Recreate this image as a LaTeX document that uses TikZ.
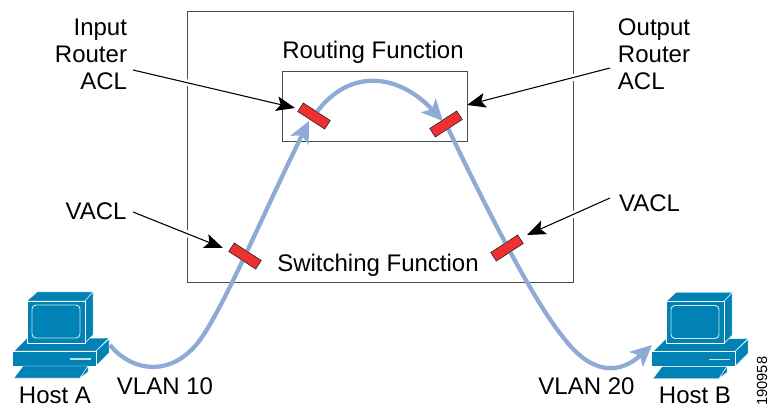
\documentclass[tikz,border=0pt]{standalone}
\usepackage{fontspec}
\setmainfont{Liberation Sans}
\usetikzlibrary{arrows.meta, positioning}

\definecolor{hostblue}{HTML}{0083B4}
\definecolor{pathblue}{HTML}{8FAAD6}
\definecolor{aclred}{HTML}{EE3030}

\tikzset{
    hostpart/.style = {fill = hostblue, draw = white, line width = 0.3pt, line join = round},
    hosticon/.pic = {
        % tower and keyboard
        \path[hostpart] (14,351) -- (26,339) -- (109,338) -- (96,351) -- cycle;
        \path[hostpart] (96,351) -- (109,339) -- (109,353) -- (96,366) -- cycle;
        \path[hostpart] (12,351) rectangle (96,366);
        \path[hostpart] (14,378) -- (23,366) -- (88,366) -- (80,378) -- cycle;
        \path[hostpart] (80,378) -- (88,366) -- (88,372) -- (80,378) -- cycle;
        \draw[white!75!hostblue, line width = 1pt] (70,359) -- (91,359);
        % monitor
        \path[hostpart] (27,301) -- (37,292) -- (93,292) -- (85,301) -- cycle;
        \path[hostpart] (85,301) -- (93,292) -- (93,335) -- (85,343) -- cycle;
        \path[hostpart] (27,301) rectangle (85,343);
        \draw[white!80!hostblue, line width = 0.7pt, rounded corners = 3pt] (32,305) rectangle (80,338);
    },
    boxline/.style = {draw = black!70, line width = 0.7pt},
    aclbar/.style = {
        draw = black!80,
        fill = aclred,
        line width = 0.4pt,
        minimum width = 24pt,
        minimum height = 7.5pt,
        inner sep = 0pt
    },
    flowpath/.style = {
        draw = pathblue,
        line width = 3.2pt,
        -{Stealth[length = 16pt, width = 15pt, inset = 4pt]}
    },
    callout/.style = {
        preaction = {draw = white, line width = 5pt, shorten > = 4pt, -},
        draw = black,
        line width = 0.8pt,
        -{Stealth[length = 14pt, width = 11pt, inset = 3pt]}
    },
    label/.style = {align = #1, inner sep = 0pt, font = \fontsize{18}{20.25}\selectfont},
    label/.default = center
}

\begin{document}
\begin{tikzpicture}[x = 0.75pt, y = -0.75pt]

    \useasboundingbox (0,0) rectangle (770,409);

    \node[boxline, minimum width = 289.5pt, minimum height = 203.25pt, inner sep = 0pt] (switch) at (380,146.5) {};
    \node[boxline, minimum width = 138.75pt, minimum height = 52.5pt, inner sep = 0pt] (router) at (374.5,106) {};

    \node[label] (routing) at (373,52) {Routing Function};
    \node[label] (switching) at (378,265) {Switching Function};

    \pic {hosticon};
    \pic at (639,0.5) {hosticon};

    \coordinate (hostaport) at (110,345);
    \coordinate (hostbport) at (652,345);

    \node[aclbar, rotate = -33] (inacl) at (314,116) {};
    \node[aclbar, rotate = 33] (outacl) at (446,124) {};
    \node[aclbar, rotate = -33] (vaclin) at (245,256) {};
    \node[aclbar, rotate = 33] (vaclout) at (507,248) {};

    \draw[flowpath] (hostaport) .. controls (130,370) and (170,380) .. (200,340) .. controls (225,305) and (265,210) .. (309,121);
    \draw[flowpath] (inacl.center) .. controls (345,70) and (395,70) .. (443,121);
    \draw[flowpath] (outacl.center) .. controls (475,185) and (530,297) .. (563,337) .. controls (592,376) and (620,374) .. (hostbport);

    % redraw the bars over the flow lines
    \node[aclbar, rotate = -33] at (inacl) {};
    \node[aclbar, rotate = 33] at (outacl) {};
    \node[aclbar, rotate = -33] at (vaclin) {};
    \node[aclbar, rotate = 33] at (vaclout) {};

    \node[label = right] (inputtext) at (91,54) {Input\\Router\\ACL};
    \node[label = left] (outputtext) at (654,54) {Output\\Router\\ACL};
    \node[label] (vacla) at (96,211) {VACL};
    \node[label] (vaclb) at (649.5,203) {VACL};

    \coordinate (inputtail) at (133,70);
    \coordinate (outputtail) at (610,68);
    \coordinate (vaclatail) at (133,212);
    \coordinate (vaclbtail) at (610,198);
    \coordinate (inputhead) at (295,108);
    \coordinate (outputhead) at (467,105);
    \coordinate (vaclahead) at (223,248);
    \coordinate (vaclbhead) at (527,235);

    \draw[callout] (inputtail) -- (inputhead);
    \draw[callout] (outputtail) -- (outputhead);
    \draw[callout] (vaclatail) -- (vaclahead);
    \draw[callout] (vaclbtail) -- (vaclbhead);

    \node[label] (hosta) at (55,395.5) {Host A};
    \node[label] (hostb) at (695,395.5) {Host B};
    \node[label] (vlanten) at (165,386) {VLAN 10};
    \node[label] (vlantwenty) at (586.5,386) {VLAN 20};

    \node[rotate = 90, inner sep = 0pt, font = \fontsize{11}{11}\selectfont, anchor = base west] (figcode) at (767,406) {190958};

\end{tikzpicture}
\end{document}
